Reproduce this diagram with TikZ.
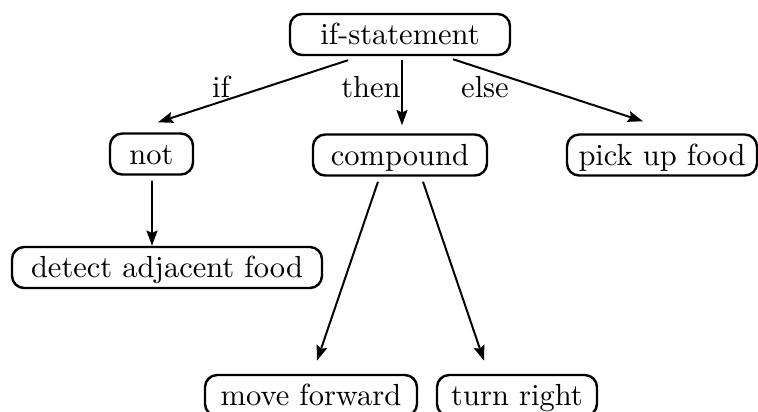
\documentclass[tikz,border=0pt]{standalone}
\usetikzlibrary{arrows.meta}
\begin{document}
\begin{tikzpicture}[x=0.3279pt,y=-0.3279pt,
  box/.style={draw,line width=0.8pt,rounded corners=4pt,inner sep=0pt,
    minimum height=41*0.3279pt,text height=6.6pt,text depth=0pt,anchor=center},
  lbl/.style={inner sep=0pt,anchor=base},
  arr/.style={line width=0.65pt,-{Stealth[length=5pt,width=3.6pt,inset=0.8pt]}}]
\useasboundingbox (0,0) rectangle (758,412);
\node[box,minimum width=220*0.3279pt] (ifs) at (400,34.5) {if-statement};
\node[box,minimum width=83*0.3279pt] (not) at (151.5,154) {not};
\node[box,minimum width=174*0.3279pt] (comp) at (400,155) {compound};
\node[box,minimum width=190*0.3279pt] (pick) at (662,155) {pick up food};
\node[box,minimum width=310*0.3279pt] (det) at (167,267.5) {detect adjacent food};
\node[box,minimum width=212*0.3279pt] (move) at (311,395.5) {move forward};
\node[box,minimum width=160*0.3279pt] (turn) at (517,395.5) {turn right};
\node[lbl] (lif) at (221,97) {if};
\node[lbl] (lthen) at (371,97) {then};
\node[lbl] (lelse) at (485,97) {else};
\draw[arr] ([shift={(-52,4)}]ifs.south) -- ([shift={(6.5,-10)}]not.north);
\draw[arr] ([shift={(2,4)}]ifs.south) -- ([shift={(2,-8)}]comp.north);
\draw[arr] ([shift={(53,3)}]ifs.south) -- ([shift={(-19,-12)}]pick.north);
\draw[arr] ([shift={(0.5,5)}]not.south) -- ([shift={(-15,0)}]det.north);
\draw[arr] ([shift={(-22,5)}]comp.south) -- ([shift={(6,-13)}]move.north);
\draw[arr] ([shift={(23,5)}]comp.south) -- ([shift={(-33,-13)}]turn.north);
\end{tikzpicture}
\end{document}
